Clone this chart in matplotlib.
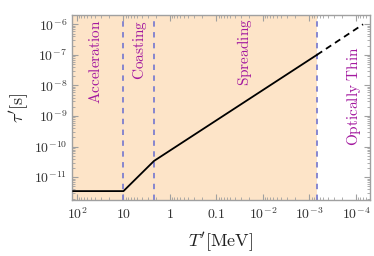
import matplotlib
matplotlib.use("Agg")
import matplotlib.pyplot as plt
import numpy as np
from matplotlib.ticker import LogLocator, NullFormatter, FixedLocator, FixedFormatter

plt.rcParams['mathtext.fontset'] = 'cm'
plt.rcParams['font.family'] = 'serif'
plt.rcParams['font.serif'] = ['DejaVu Serif']

# data
T_solid = [120, 10, 2.2, 6.9e-4]
tau_solid = [3.5e-12, 3.5e-12, 3.4e-11, 1.0e-7]
T_dash = [6.9e-4, 7.0e-5]
tau_dash = [1.0e-7, 1.0e-6]
boundaries = [10, 2.2, 6.9e-4]
region_names = ["Acceleration", "Coasting", "Spreading", "Optically Thin"]
region_x = [4.0e1, 4.4, 2.5e-2, 1.1e-4]
region_y = [5.9e-8, 1.45e-7, 1.2e-7, 4.4e-9]
xticks = [1e2, 1e1, 1, 1e-1, 1e-2, 1e-3, 1e-4]
xticklabels = [r'$10^{2}$', r'$10$', r'$1$', r'$0.1$', r'$10^{-2}$', r'$10^{-3}$', r'$10^{-4}$']
yticks = [1e-11, 1e-10, 1e-9, 1e-8, 1e-7, 1e-6]
yticklabels = [r'$10^{%d}$' % e for e in range(-11, -5)]

fig = plt.figure(figsize=(3.74, 2.56), dpi=100)
ax = fig.add_axes([0.1925, 0.219, 0.7965, 0.722])
ax.set_xscale('log')
ax.set_yscale('log')
ax.set_xlim(128, 5e-5)
ax.set_ylim(1.8e-12, 2e-6)

ax.axvspan(128, boundaries[-1], color='#fde4c8', zorder=0, lw=0)
for b in boundaries:
    ax.axvline(b, color='#7d7fcf', ls=(0, (3, 3)), lw=1.3, zorder=2)

ax.plot(T_solid, tau_solid, color='black', lw=1.3, zorder=3)
ax.plot(T_dash, tau_dash, color='black', lw=1.3, ls=(0, (3.5, 2.5)), zorder=3)

for name, x, y in zip(region_names, region_x, region_y):
    ax.text(x, y, r'$\mathrm{%s}$' % name.replace(' ', r'\ '), rotation=90,
            color='#a3199f', fontsize=11, ha='center', va='center')

ax.xaxis.set_major_locator(FixedLocator(xticks))
ax.xaxis.set_major_formatter(FixedFormatter(xticklabels))
ax.xaxis.set_minor_locator(LogLocator(base=10, subs=np.arange(2, 10), numticks=20))
ax.xaxis.set_minor_formatter(NullFormatter())
ax.yaxis.set_major_locator(FixedLocator(yticks))
ax.yaxis.set_major_formatter(FixedFormatter(yticklabels))
ax.yaxis.set_minor_locator(LogLocator(base=10, subs=np.arange(2, 10), numticks=20))
ax.yaxis.set_minor_formatter(NullFormatter())

for s in ax.spines.values():
    s.set_color('#a0a0a0')
    s.set_linewidth(1.0)
ax.tick_params(which='both', direction='in', top=True, right=True, colors='#a0a0a0',
               labelcolor='#333333', labelsize=10)
ax.tick_params(which='major', length=4, width=0.8)
ax.tick_params(which='minor', length=2, width=0.6)
ax.tick_params(axis='x', pad=5)

ax.set_xlabel(r"$T^{\prime}[\mathrm{MeV}]$", fontsize=13, color='#222222', labelpad=6)
ax.set_ylabel(r"$\tau^{\prime}[\mathrm{s}]$", fontsize=13, color='#222222', labelpad=2)

fig.savefig('out.png', dpi=100)
